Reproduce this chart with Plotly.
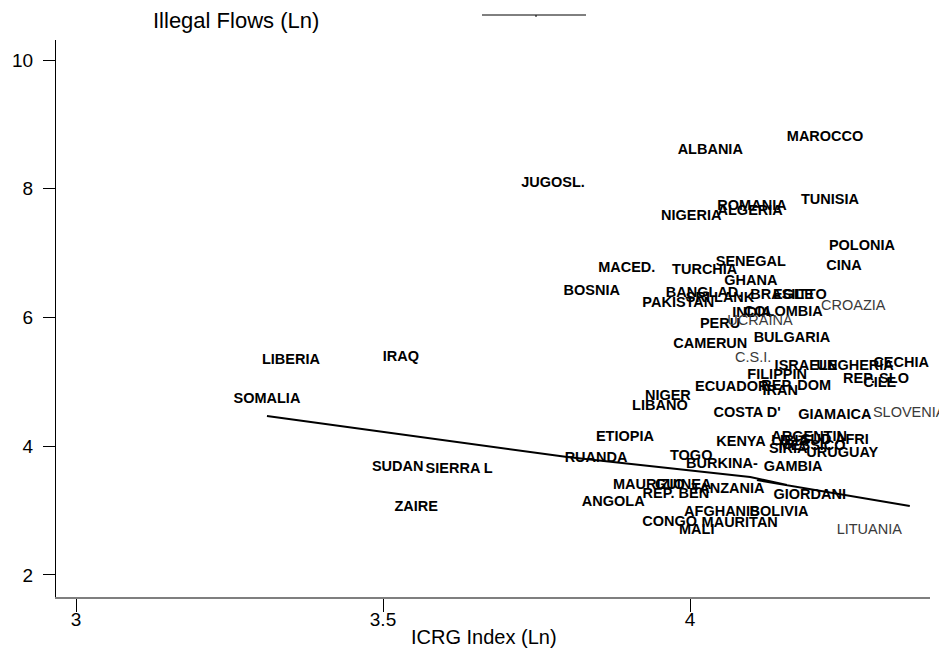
import plotly.graph_objects as go

# ---- data ----
names_main = ["MAROCCO", "ALBANIA", "JUGOSL.", "ROMANIA", "ALGERIA", "TUNISIA", "NIGERIA",
              "POLONIA", "CINA", "SENEGAL", "MACED.", "TURCHIA", "GHANA", "BOSNIA",
              "BANGLAD.", "SRI LANK", "PAKISTAN", "BRASILE", "EGITTO", "INDIA", "COLOMBIA",
              "PERU", "BULGARIA", "CAMERUN", "ISRAELE", "UNGHERIA", "CECHIA", "REP. SLO",
              "CILE", "FILIPPIN", "ECUADOR", "REP. DOM", "IRAN", "NIGER", "LIBANO",
              "COSTA D'", "GIAMAICA", "ETIOPIA", "KENYA", "ARGENTIN", "LIBIA", "SUD AFRI",
              "SIRIA", "MESSICO", "URUGUAY", "TOGO", "RUANDA", "BURKINA-", "GAMBIA",
              "SUDAN", "SIERRA L", "ZAIRE", "LIBERIA", "IRAQ", "SOMALIA", "MAURIZIO",
              "GUINEA", "REP. BEN", "TANZANIA", "GIORDANI", "ANGOLA", "AFGHANIS",
              "BOLIVIA", "CONGO", "MAURITAN", "MALI"]
icrg_main = [4.220, 4.033, 3.777, 4.101, 4.098, 4.228, 4.002,
             4.280, 4.251, 4.099, 3.897, 4.024, 4.099, 3.840,
             4.023, 4.049, 3.981, 4.150, 4.179, 4.101, 4.152,
             4.049, 4.166, 4.033, 4.189, 4.269, 4.344, 4.303,
             4.309, 4.142, 4.068, 4.173, 4.147, 3.964, 3.951,
             4.093, 4.236, 3.894, 4.083, 4.194, 4.163, 4.236,
             4.160, 4.199, 4.248, 4.002, 3.847, 4.052, 4.168,
             3.524, 3.624, 3.554, 3.350, 3.529, 3.311, 3.933,
             3.989, 3.977, 4.062, 4.195, 3.875, 4.052,
             4.145, 3.967, 4.081, 4.011]
flows_main = [8.804, 8.602, 8.089, 7.732, 7.654, 7.825, 7.577,
              7.111, 6.800, 6.862, 6.769, 6.738, 6.567, 6.412,
              6.381, 6.303, 6.225, 6.350, 6.350, 6.070, 6.085,
              5.899, 5.682, 5.588, 5.247, 5.247, 5.293, 5.045,
              4.983, 5.107, 4.920, 4.936, 4.858, 4.781, 4.625,
              4.517, 4.485, 4.144, 4.066, 4.144, 4.082, 4.097,
              3.957, 4.004, 3.895, 3.849, 3.817, 3.724, 3.678,
              3.678, 3.647, 3.056, 5.340, 5.386, 4.734, 3.398,
              3.398, 3.258, 3.336, 3.243, 3.134, 2.979,
              2.979, 2.823, 2.808, 2.699]

names_trans = ["CROAZIA", "UCRAINA", "C.S.I.", "SLOVENIA", "LITUANIA"]
icrg_trans = [4.266, 4.114, 4.103, 4.357, 4.292]
flows_trans = [6.179, 5.946, 5.371, 4.517, 2.699]

fit_icrg = [3.311, 3.800, 4.098, 4.158, 4.109, 4.358]
fit_flows = [4.470, 3.833, 3.522, 3.400, 3.475, 3.072]

x_ticks = [3, 3.5, 4]
x_ticktext = ["3", "3.5", "4"]
y_ticks = [2, 4, 6, 8, 10]
y_ticktext = ["2", "4", "6", "8", "10"]

FONT = "Liberation Sans, Arial, sans-serif"

fig = go.Figure()
fig.add_trace(go.Scatter(x=fit_icrg, y=fit_flows, mode="lines",
                         line=dict(color="black", width=2), hoverinfo="skip",
                         showlegend=False))
fig.add_trace(go.Scatter(x=icrg_main, y=flows_main, text=names_main, mode="text",
                         textposition="middle center", cliponaxis=False,
                         textfont=dict(family=FONT, size=14.5, color="black", weight="bold"),
                         showlegend=False))
fig.add_trace(go.Scatter(x=icrg_trans, y=flows_trans, text=names_trans, mode="text",
                         textposition="middle center", cliponaxis=False,
                         textfont=dict(family=FONT, size=14.5, color="#3a3a3a"),
                         showlegend=False))

# page body has an 8px default margin: size the figure so the plot area lands
# at page x 56..930, y 40..597
fig.update_layout(
    width=939, height=648,
    margin=dict(l=48, r=17, t=32, b=59),
    paper_bgcolor="white", plot_bgcolor="white",
    font=dict(family=FONT, color="black"),
    xaxis=dict(range=[2.9674, 4.3909], tickvals=x_ticks, ticktext=x_ticktext,
               automargin=False,
               showgrid=False, zeroline=False, showline=True, linecolor="#7f7f7f",
               linewidth=2, ticks="outside", ticklen=13, tickcolor="black", tickwidth=1,
               ticklabelstandoff=-9,
               tickfont=dict(family=FONT, size=19, color="black")),
    yaxis=dict(range=[1.658, 10.311], tickvals=y_ticks, ticktext=y_ticktext,
               automargin=False,
               showgrid=False, zeroline=False, showline=True, linecolor="black",
               linewidth=1, ticks="outside", ticklen=12, tickcolor="black", tickwidth=1,
               ticklabelstandoff=6,
               tickfont=dict(family=FONT, size=19, color="black")),
    annotations=[
        dict(text="ICRG Index (Ln)", xref="paper", yref="paper",
             x=(484 - 56) / 874, y=(597 - 637) / 557, xanchor="center", yanchor="middle",
             showarrow=False, font=dict(family=FONT, size=20, color="black")),
        dict(text="Illegal Flows (Ln)", xref="paper", yref="paper",
             x=(236 - 56) / 874, y=(597 - 20) / 557, xanchor="center", yanchor="middle",
             showarrow=False, font=dict(family=FONT, size=22, color="black")),
    ],
    shapes=[
        dict(type="line", xref="paper", yref="paper",
             x0=(482 - 56) / 874, x1=(586 - 56) / 874,
             y0=(597 - 15) / 557, y1=(597 - 15) / 557,
             line=dict(color="black", width=1)),
        dict(type="line", xref="paper", yref="paper",
             x0=(536 - 56) / 874, x1=(536 - 56) / 874,
             y0=(597 - 15) / 557, y1=(597 - 17) / 557,
             line=dict(color="black", width=1)),
    ],
)

fig.write_html("out.html")
